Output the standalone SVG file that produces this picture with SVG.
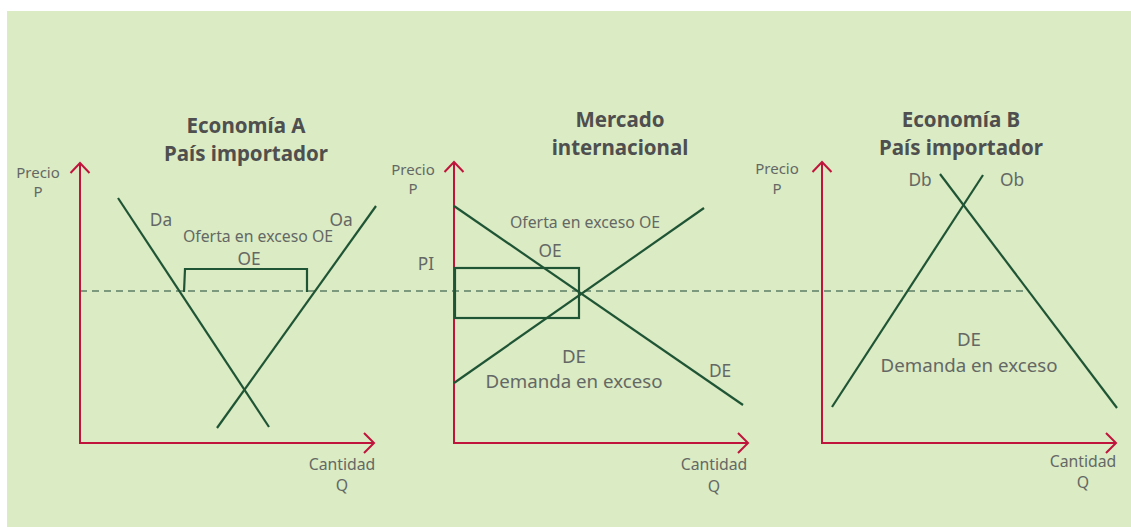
<svg xmlns="http://www.w3.org/2000/svg" width="1131" height="527" viewBox="0 0 1131 527">
<style>
.bg{fill:#dbebc4}
.axis{stroke:#c0143c;stroke-width:2;fill:none}
.curve{stroke:#1f5535;stroke-width:2.2;fill:none}
.dash{stroke:#5e7f66;stroke-width:1.4;stroke-dasharray:7 5;fill:none}
.t{font-family:"Noto Sans","Open Sans",sans-serif;fill:#646864;text-anchor:middle}
.title{font-family:"Noto Sans","Open Sans",sans-serif;fill:#4e4f4e;font-weight:bold;font-size:20.5px;text-anchor:middle}
.s13{font-size:15px}
.sq{font-size:15.8px}
.s14{font-size:15.8px}
.s16{font-size:17.3px}
.s17{font-size:18.7px}
</style>
<defs>
<path id="arrUp" d="M-9.5 10 L0 0 L9.5 10" class="axis"/>
<path id="arrRight" d="M-10 -10 L0 0 L-10 10" class="axis"/>
</defs>
<rect x="0" y="0" width="1131" height="527" fill="#ffffff"/>
<rect class="bg" x="7" y="11" width="1124" height="516"/>

<g id="connectors">
<line class="dash" x1="80" y1="291" x2="1026" y2="291"/>
</g>

<g id="panelA">
<text class="title" x="246" y="133">Economía A</text>
<text class="title" x="246" y="161">País importador</text>
<path class="axis" d="M80 163 L80 443 L374 443"/>
<use href="#arrUp" x="80" y="163"/>
<use href="#arrRight" x="374" y="443"/>
<text class="t s13" x="38" y="178">Precio</text>
<text class="t s13" x="38" y="197">P</text>
<text class="t sq" x="342" y="470">Cantidad</text>
<text class="t sq" x="342" y="491">Q</text>
<line class="curve" x1="118" y1="198" x2="269" y2="427"/>
<line class="curve" x1="376" y1="206" x2="217" y2="428"/>
<path class="curve" d="M184 292 L185 269 L307 269 L307 292"/>
<text class="t s16" x="161" y="226">Da</text>
<text class="t s16" x="341" y="226">Oa</text>
<text class="t s14" x="258" y="242">Oferta en exceso OE</text>
<text class="t s16" x="249" y="265">OE</text>
</g>

<g id="panelMercado">
<text class="title" x="620" y="127">Mercado</text>
<text class="title" x="620" y="155">internacional</text>
<path class="axis" d="M454 162 L454 443 L748 443"/>
<use href="#arrUp" x="454" y="162"/>
<use href="#arrRight" x="748" y="443"/>
<text class="t s13" x="413" y="175">Precio</text>
<text class="t s13" x="413" y="194">P</text>
<text class="t sq" x="714" y="470">Cantidad</text>
<text class="t sq" x="714" y="492">Q</text>
<line class="curve" x1="454" y1="206" x2="743" y2="405"/>
<line class="curve" x1="454" y1="383" x2="704" y2="208"/>
<rect class="curve" x="455" y="268" width="124" height="50"/>
<text class="t s16" x="426" y="270">PI</text>
<text class="t s14" x="585" y="228">Oferta en exceso OE</text>
<text class="t s16" x="550" y="257">OE</text>
<text class="t s17" x="574" y="363">DE</text>
<text class="t s17" x="574" y="388">Demanda en exceso</text>
<text class="t s16" x="720" y="377">DE</text>
</g>

<g id="panelB">
<text class="title" x="961" y="127">Economía B</text>
<text class="title" x="961" y="155">País importador</text>
<path class="axis" d="M822 162 L822 443 L1116 443"/>
<use href="#arrUp" x="822" y="162"/>
<use href="#arrRight" x="1116" y="443"/>
<text class="t s13" x="777" y="174">Precio</text>
<text class="t s13" x="777" y="194">P</text>
<text class="t sq" x="1083" y="467">Cantidad</text>
<text class="t sq" x="1083" y="488">Q</text>
<line class="curve" x1="832" y1="407" x2="983" y2="175"/>
<line class="curve" x1="940" y1="174" x2="1117" y2="408"/>
<text class="t s16" x="920" y="186">Db</text>
<text class="t s16" x="1012" y="186">Ob</text>
<text class="t s17" x="969" y="346">DE</text>
<text class="t s17" x="969" y="372">Demanda en exceso</text>
</g>
</svg>
